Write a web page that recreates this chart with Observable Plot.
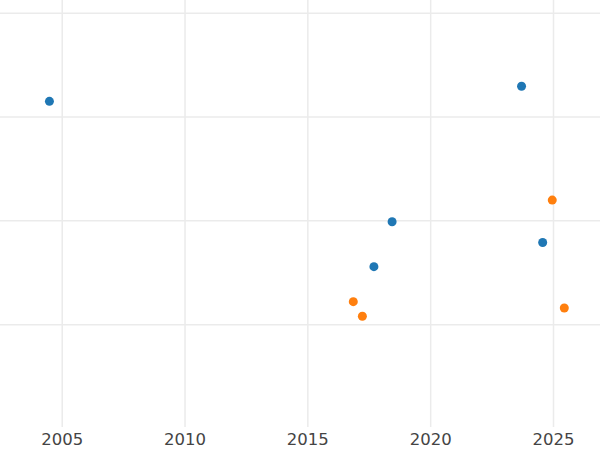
<!DOCTYPE html>
<html>
<head>
<meta charset="utf-8">
<script src="https://cdn.jsdelivr.net/npm/d3@7"></script>
<script src="https://cdn.jsdelivr.net/npm/@observablehq/plot@0.6"></script>
<style>
  html, body { margin: 0; padding: 0; background: #fff; }
  svg { display: block; }
</style>
</head>
<body>
<div id="chart"></div>
<script>
const blueYears  = [2004.48, 2023.70, 2018.43, 2024.56, 2017.69];
const blueValues = [2.151, 2.296, 0.991, 0.791, 0.559];
const orangeYears  = [2024.95, 2016.85, 2017.22, 2025.44];
const orangeValues = [1.200, 0.222, 0.081, 0.161];
const xTicks = [2005, 2010, 2015, 2020, 2025];
const yTicks = [0, 1, 2, 3];

const blue = blueYears.map((x, i) => ({x, y: blueValues[i], s: "A"}));
const orange = orangeYears.map((x, i) => ({x, y: orangeValues[i], s: "B"}));

const chart = Plot.plot({
  width: 600,
  height: 450,
  marginTop: 0,
  marginRight: 0,
  marginLeft: 0,
  marginBottom: 23,
  style: {fontFamily: "DejaVu Sans", fontSize: "16.5px", color: "#444", background: "#fff", overflow: "visible"},
  x: {domain: [2002.488, 2026.914], ticks: xTicks, tickFormat: d => String(d), label: null},
  y: {domain: [-0.99, 3.122], ticks: yTicks, axis: null},
  marks: [
    Plot.gridX(xTicks, {stroke: "#ebebeb", strokeOpacity: 1, strokeWidth: 1.5}),
    Plot.gridY(yTicks, {stroke: "#ebebeb", strokeOpacity: 1, strokeWidth: 1.5}),
    Plot.axisX(xTicks, {tickSize: 0, tickPadding: 6, tickFormat: d => String(d), label: null, fill: "#444", fontSize: 16.5}),
    Plot.dot(blue, {x: "x", y: "y", r: 4.5, fill: "#1f77b4", stroke: null}),
    Plot.dot(orange, {x: "x", y: "y", r: 4.5, fill: "#ff7f0e", stroke: null})
  ]
});
document.getElementById("chart").append(chart);
</script>
</body>
</html>
